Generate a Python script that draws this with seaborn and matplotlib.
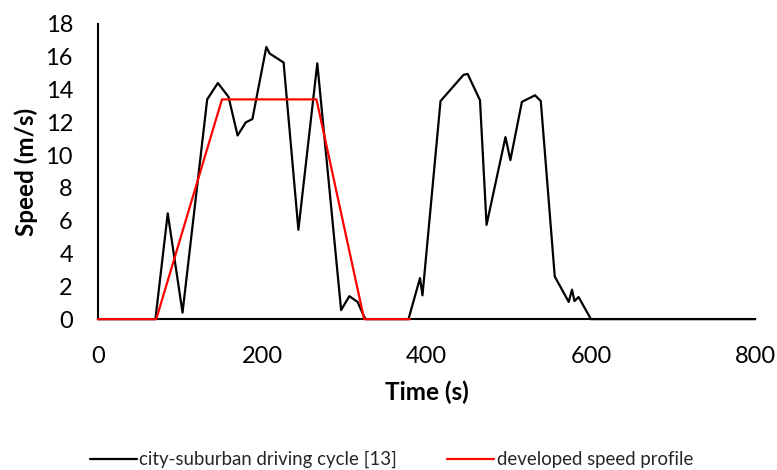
import matplotlib
matplotlib.use("Agg")
import matplotlib.pyplot as plt
import seaborn as sns
import pandas as pd

# City-suburban driving cycle [13]
cycle_time = [0, 70, 85, 103, 133, 146, 159, 170, 180, 188, 205, 209, 226, 244, 267,
              296, 306, 316, 324, 326, 378, 392, 395, 417, 445, 450, 465, 473, 496,
              502, 516, 532, 539, 556, 573, 577, 580, 585, 600, 800]
cycle_speed = [0, 0, 6.45, 0.4, 13.4, 14.4, 13.55, 11.2, 12.0, 12.2, 16.6, 16.2, 15.65,
               5.45, 15.6, 0.55, 1.4, 1.05, 0.15, 0, 0, 2.5, 1.45, 13.3, 14.9, 14.95,
               13.35, 5.75, 11.1, 9.7, 13.25, 13.65, 13.3, 2.6, 1.05, 1.8, 1.1, 1.35, 0, 0]

# Developed speed profile
profile_time = [0, 71, 151, 266, 324, 380]
profile_speed = [0, 0, 13.4, 13.4, 0, 0]

series_names = ["city-suburban driving cycle [13]", "developed speed profile"]
series_colors = ["#000000", "#ff0000"]

x_ticks = [0, 200, 400, 600, 800]
y_ticks = [0, 2, 4, 6, 8, 10, 12, 14, 16, 18]

df = pd.concat([
    pd.DataFrame({"Time (s)": cycle_time, "Speed (m/s)": cycle_speed, "series": series_names[0]}),
    pd.DataFrame({"Time (s)": profile_time, "Speed (m/s)": profile_speed, "series": series_names[1]}),
], ignore_index=True)

sns.set_theme(style="white")
plt.rcParams["font.family"] = ["Lato", "DejaVu Sans"]

fig = plt.figure(figsize=(7.77, 4.70), dpi=100)
ax = fig.add_axes([0.126, 0.321, 0.846, 0.628])

sns.lineplot(data=df, x="Time (s)", y="Speed (m/s)", hue="series",
             hue_order=series_names, palette=dict(zip(series_names, series_colors)),
             sort=False, estimator=None, linewidth=1.6, ax=ax)
for ln in ax.lines:
    ln.set_clip_on(False)
    ln.set_zorder(3)

ax.set_xlim(0, 800)
ax.set_ylim(0, 18)
ax.set_xticks(x_ticks)
ax.set_yticks(y_ticks)
ax.tick_params(axis="both", length=0, labelsize=17, colors="#000000")
ax.tick_params(axis="x", pad=19)
ax.tick_params(axis="y", pad=18)
for s in ["top", "right"]:
    ax.spines[s].set_visible(False)
for s in ["left", "bottom"]:
    ax.spines[s].set_color("#000000")
    ax.spines[s].set_linewidth(1.5)
ax.grid(False)

ax.set_xlabel("Time (s)", fontsize=17.5, fontweight="bold", color="#000000", labelpad=10)
ax.set_ylabel("Speed (m/s)", fontsize=17.5, fontweight="bold", color="#000000", labelpad=5)

handles, labels = ax.get_legend_handles_labels()
ax.get_legend().remove()
fig.legend(handles, labels, loc="center", bbox_to_anchor=(0.504, 0.022),
           bbox_transform=fig.transFigure,
           ncol=2, frameon=False, fontsize=13.4, handlelength=2.5, handletextpad=0.15,
           columnspacing=2.7, borderpad=0.1)

fig.savefig("out.png", dpi=100)
